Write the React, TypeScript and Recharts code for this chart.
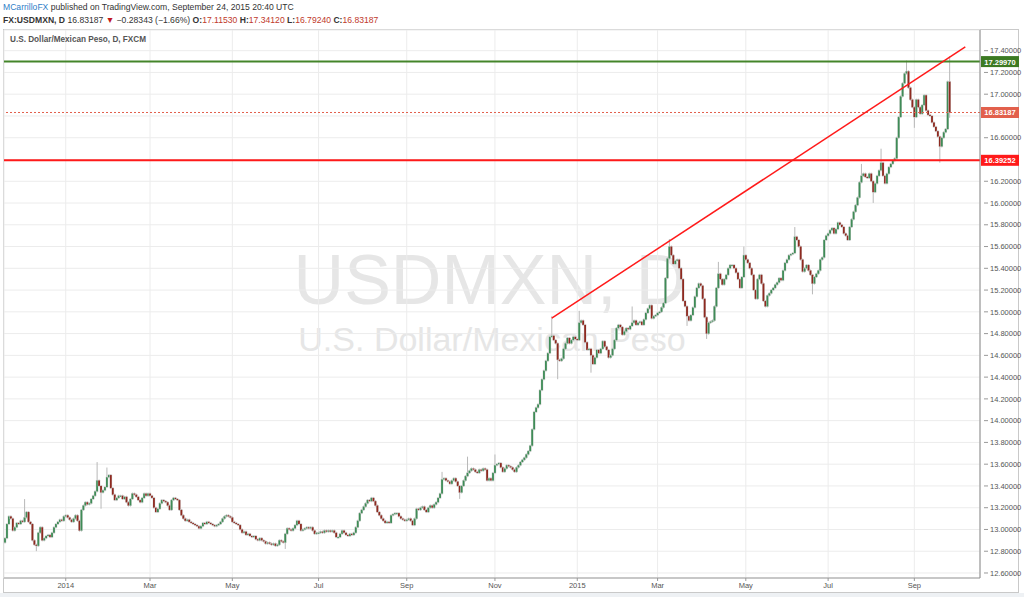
import { ComposedChart, Bar, XAxis, YAxis, CartesianGrid, ReferenceLine } from 'recharts';

// daily closes, USD/MXN, mid Nov 2013 -> 24 Sep 2015
const closes = [
  12.92, 13.05, 13.12, 13.10, 12.99, 13.02, 13.06, 13.05, 13.08, 13.07,
  13.11, 13.16, 13.07, 13.05, 12.90, 12.86, 12.85, 12.97, 13.02, 12.90,
  12.92, 12.94, 12.95, 12.93, 12.97, 13.02, 13.05, 13.07, 13.09, 13.08,
  13.12, 13.13, 13.11, 13.09, 13.07, 13.10, 13.13, 13.08, 12.99, 13.18,
  13.22, 13.25, 13.23, 13.24, 13.28, 13.31, 13.35, 13.45, 13.40, 13.34,
  13.36, 13.39, 13.48, 13.50, 13.38, 13.32, 13.27, 13.29, 13.31, 13.31,
  13.28, 13.30, 13.25, 13.22, 13.28, 13.33, 13.32, 13.30, 13.27, 13.25,
  13.29, 13.33, 13.31, 13.33, 13.31, 13.29, 13.20, 13.16, 13.19, 13.24,
  13.27, 13.26, 13.25, 13.22, 13.18, 13.27, 13.29, 13.28, 13.27, 13.18,
  13.13, 13.10, 13.08, 13.09, 13.07, 13.06, 13.05, 13.04, 13.03, 13.01,
  13.03, 13.06, 13.05, 13.07, 13.06, 13.05, 13.04, 13.03, 13.04, 13.05,
  13.07, 13.10, 13.12, 13.13, 13.12, 13.11, 13.07, 13.06, 13.05, 13.04,
  13.00, 12.97, 12.98, 12.95, 12.96, 12.94, 12.93, 12.94, 12.91, 12.90,
  12.92, 12.90, 12.89, 12.87, 12.88, 12.87, 12.86, 12.87, 12.85, 12.86,
  12.90, 12.89, 12.88, 12.96, 13.01, 13.00, 12.99, 13.01, 13.04, 13.08,
  13.05, 12.99, 13.00, 13.01, 13.02, 13.01, 13.02, 12.99, 12.96, 12.97,
  12.97, 12.98, 12.97, 12.99, 12.98, 12.99, 12.98, 12.99, 12.97, 12.93,
  12.93, 12.96, 12.99, 12.97, 12.95, 12.94, 12.96, 12.95, 12.97, 13.02,
  13.08, 13.15, 13.18, 13.21, 13.24, 13.27, 13.26, 13.29, 13.26, 13.22,
  13.16, 13.13, 13.10, 13.08, 13.06, 13.07, 13.06, 13.13, 13.14, 13.15,
  13.15, 13.12, 13.10, 13.09, 13.08, 13.09, 13.10, 13.08, 13.04, 13.10,
  13.19, 13.18, 13.20, 13.21, 13.18, 13.16, 13.20, 13.22, 13.20, 13.23,
  13.25, 13.29, 13.33, 13.46, 13.47, 13.45, 13.44, 13.42, 13.45, 13.47,
  13.44, 13.40, 13.34, 13.40, 13.45, 13.49, 13.52, 13.54, 13.56, 13.55,
  13.53, 13.52, 13.55, 13.54, 13.56, 13.55, 13.45, 13.47, 13.45, 13.52,
  13.59, 13.60, 13.61, 13.57, 13.53, 13.56, 13.59, 13.58, 13.57, 13.55,
  13.53, 13.57, 13.59, 13.62, 13.64, 13.66, 13.69, 13.72, 13.77, 13.92,
  14.08, 14.12, 14.15, 14.28, 14.38, 14.46, 14.55, 14.62, 14.77, 14.78,
  14.74, 14.71, 14.56, 14.55, 14.57, 14.66, 14.71, 14.76, 14.71, 14.74,
  14.77, 14.75, 14.74, 14.90, 14.92, 14.88, 14.72, 14.65, 14.66, 14.60,
  14.52, 14.58, 14.65, 14.62, 14.66, 14.73, 14.68, 14.65, 14.58, 14.60,
  14.66, 14.74, 14.85, 14.88, 14.86, 14.79, 14.82, 14.85, 14.84, 14.87,
  14.90, 14.92, 14.88, 14.90, 14.91, 14.88, 14.93, 14.99, 15.03, 15.06,
  14.94, 14.96, 14.97, 14.99, 15.00, 15.04, 15.08, 15.31, 15.49, 15.60,
  15.52, 15.44, 15.47, 15.48, 15.40, 15.30, 15.10, 15.05, 14.96, 14.92,
  14.97, 15.04, 15.14, 15.22, 15.26, 15.24, 15.12, 14.95, 14.80, 14.90,
  14.91, 14.92, 15.05, 15.22, 15.35, 15.30, 15.25, 15.30, 15.34, 15.40,
  15.43, 15.43, 15.40, 15.36, 15.30, 15.22, 15.32, 15.52, 15.48, 15.45,
  15.40, 15.34, 15.20, 15.12, 15.30, 15.34, 15.26, 15.10, 15.05, 15.15,
  15.17, 15.20, 15.22, 15.25, 15.27, 15.31, 15.29, 15.38, 15.45, 15.48,
  15.52, 15.53, 15.54, 15.69, 15.66, 15.60, 15.48, 15.37, 15.40, 15.43,
  15.38, 15.34, 15.26, 15.32, 15.35, 15.38, 15.48, 15.50, 15.66, 15.70,
  15.72, 15.75, 15.77, 15.72, 15.76, 15.82, 15.80, 15.78, 15.72, 15.70,
  15.66, 15.78, 15.85, 15.92, 15.98, 16.05, 16.19, 16.25, 16.27, 16.24,
  16.23, 16.27, 16.20, 16.10, 16.18, 16.25, 16.30, 16.37, 16.25, 16.18,
  16.27, 16.33, 16.36, 16.39, 16.41, 16.60, 16.79, 16.98, 17.10, 17.19,
  17.21, 17.06, 16.95, 16.88, 16.79, 16.95, 16.88, 16.82, 16.90, 16.99,
  16.85, 16.81, 16.80, 16.74, 16.70, 16.66, 16.61, 16.52, 16.60, 16.65,
  16.68, 17.1153, 16.83187,
];
const firstOpen = 12.88;

// wicks that stick out of the bodies: [bar index, price]
const wickHigh: [number, number][] = [
  [10, 13.27], [47, 13.61], [52, 13.56], [223, 13.52], [236, 13.66], [250, 13.68],
  [279, 14.95], [293, 15.0], [320, 15.04], [339, 15.66], [364, 15.45], [377, 15.59],
  [403, 15.77], [437, 16.35], [447, 16.49], [460, 17.3], [482, 17.3412],
];
const wickLow: [number, number][] = [
  [16, 12.81], [49, 13.2], [143, 12.83], [232, 13.29], [282, 14.39], [299, 14.45],
  [348, 14.88], [358, 14.76], [412, 15.17], [443, 16.01], [464, 16.7], [477, 16.38],
  [482, 16.7924],
];
const emptyBarsRight = 15;

const xTickIdx = [31, 74, 116, 160, 205, 250, 292, 333, 378, 420, 464];
const xTickLabels = ['2014', 'Mar', 'May', 'Jul', 'Sep', 'Nov', '2015', 'Mar', 'May', 'Jul', 'Sep'];
const yTicks = [
  12.6, 12.8, 13.0, 13.2, 13.4, 13.6, 13.8, 14.0, 14.2, 14.4, 14.6, 14.8, 15.0,
  15.2, 15.4, 15.6, 15.8, 16.0, 16.2, 16.4, 16.6, 16.8, 17.0, 17.2, 17.4,
];

const resistance = 17.2997;
const support = 16.39252;
const lastPrice = 16.83187;
const trendFrom = { i: 279, price: 14.942 };
const trendTo = { i: 490, price: 17.434 };

const UP = '#3f8c57';
const DOWN = '#8e2a20';
const GREEN_LINE = '#44852a';
const RED_LINE = '#ff1a1a';
const LAST_COL = '#e2604c';

const hiMap = new Map(wickHigh);
const loMap = new Map(wickLow);
const data: any[] = [];
for (let i = 0; i < closes.length + emptyBarsRight; i++) {
  if (i < closes.length) {
    const open = i === 0 ? firstOpen : closes[i - 1];
    const close = closes[i];
    const high = Math.max(open, close, hiMap.get(i) ?? -Infinity);
    const low = Math.min(open, close, loMap.get(i) ?? Infinity);
    data.push({ i, open, close, high, low, range: [low, high] });
  } else {
    data.push({ i, range: null });
  }
}

function Candle(props: any) {
  const { x, y, width, height, payload } = props;
  if (!payload || payload.open == null) return null;
  const { open, close, high, low } = payload;
  const top = Math.min(y, y + height);
  const h = Math.abs(height);
  const span = high - low;
  const py = (v: number) => (span > 0 ? top + ((high - v) / span) * h : top);
  const cx = x + width / 2;
  const bTop = py(Math.max(open, close));
  const bBot = py(Math.min(open, close));
  const bh = Math.max(1, bBot - bTop);
  return (
    <g>
      <line x1={cx} x2={cx} y1={top - 1} y2={top + h + 1} stroke="#b8b8b8" strokeWidth={1} />
      <rect x={cx - 1.3} y={bTop - 0.5} width={2.6} height={bh + 1} fill="#d4d4d4" />
      <rect x={cx - 0.9} y={bTop} width={1.8} height={bh} fill={close >= open ? UP : DOWN} />
    </g>
  );
}

const tagged = [resistance, support, lastPrice];

function YTick(props: any) {
  const { x, y, payload } = props;
  if (tagged.some((t) => Math.abs(t - payload.value) < 0.07)) return null;
  return (
    <g>
      <line x1={x - 4} x2={x} y1={y} y2={y} stroke="#999" />
      <text x={x + 2} y={y + 2.7} fontSize={7.5} fill="#555" fontFamily='"Liberation Sans", Arial, sans-serif'>
        {payload.value.toFixed(5)}
      </text>
    </g>
  );
}

const priceTag = (text: string, bg: string) => (props: any) => {
  const vb = props.viewBox;
  const x = vb.x + vb.width + 1;
  return (
    <g>
      <rect x={x} y={vb.y - 5.5} width={38} height={11} fill={bg} />
      <text x={x + 19} y={vb.y + 3} textAnchor="middle" fontSize={7.5} fontWeight="bold" fill="#fff"
        fontFamily='"Liberation Sans", Arial, sans-serif'>
        {text}
      </text>
    </g>
  );
};

const sans = '"Liberation Sans", Arial, sans-serif';

export default function App() {
  return (
    <div style={{ position: 'relative', width: 1024, height: 597, background: '#fff', overflow: 'hidden' }}>
      <style>{'body{margin:0}'}</style>
      <div style={{ position: 'absolute', left: 0, top: 593, width: 1024, height: 4, background: '#eef1f4' }} />
      <div style={{ position: 'absolute', left: 3, top: 29, width: 1016, height: 564, border: '1px solid #c9c9c9', boxSizing: 'border-box' }} />
      <div style={{ position: 'absolute', left: 490, top: 245, transform: 'translateX(-50%)', fontFamily: sans, fontSize: 70, color: '#e6e6e6', whiteSpace: 'nowrap', lineHeight: 1 }}>
        USDMXN, D
      </div>
      <div style={{ position: 'absolute', left: 492, top: 322, transform: 'translateX(-50%)', fontFamily: sans, fontSize: 34, color: '#e6e6e6', whiteSpace: 'nowrap', lineHeight: 1 }}>
        U.S. Dollar/Mexican Peso
      </div>
      <div style={{ position: 'absolute', left: 0, top: 0 }}>
        <ComposedChart width={1024} height={597} data={data} barCategoryGap={0} margin={{ top: 30, right: 0, left: 4, bottom: 4 }}>
          <CartesianGrid stroke="#ececec" />
          <XAxis dataKey="i" ticks={xTickIdx} interval={0} height={15} tickSize={3}
            tickFormatter={(v) => xTickLabels[xTickIdx.indexOf(v)] ?? ''}
            axisLine={{ stroke: '#999' }} tickLine={{ stroke: '#999' }}
            tick={{ fontSize: 7.5, fill: '#555', fontFamily: sans }} />
          <YAxis orientation="right" type="number" domain={[12.554, 17.59]} allowDataOverflow ticks={yTicks}
            interval={0} width={44} axisLine={{ stroke: '#888' }} tickLine={false} tick={<YTick />} />
          <Bar dataKey="range" shape={Candle} isAnimationActive={false} />
          <ReferenceLine y={lastPrice} stroke={LAST_COL} strokeDasharray="2 2" label={priceTag(lastPrice.toFixed(5), LAST_COL)} />
          <ReferenceLine y={support} stroke={RED_LINE} strokeWidth={2} label={priceTag(support.toFixed(5), RED_LINE)} />
          <ReferenceLine y={resistance} stroke={GREEN_LINE} strokeWidth={2} label={priceTag(resistance.toFixed(5), '#3c7a22')} />
          <ReferenceLine segment={[{ x: trendFrom.i, y: trendFrom.price }, { x: trendTo.i, y: trendTo.price }]}
            stroke={RED_LINE} strokeWidth={1.5} />
        </ComposedChart>
      </div>
      <div style={{ position: 'absolute', left: 3, top: 2, fontFamily: sans, fontSize: 8.6, color: '#333', whiteSpace: 'nowrap' }}>
        <span style={{ color: '#2f80c8' }}>MCarrilloFX</span> published on TradingView.com, September 24, 2015 20:40 UTC
      </div>
      <div style={{ position: 'absolute', left: 3, top: 15, fontFamily: sans, fontSize: 8.6, color: '#333', whiteSpace: 'nowrap' }}>
        <b>FX:USDMXN, D</b> 16.83187 <span style={{ color: '#c0181c' }}>▼</span> −0.28343 (−1.66%){' '}
        <b>O:</b><span style={{ color: '#c0392b' }}>17.11530</span> <b>H:</b><span style={{ color: '#c0392b' }}>17.34120</span>{' '}
        <b>L:</b><span style={{ color: '#c0392b' }}>16.79240</span> <b>C:</b><span style={{ color: '#c0392b' }}>16.83187</span>
      </div>
      <div style={{ position: 'absolute', left: 10, top: 35, fontFamily: sans, fontSize: 8.2, fontWeight: 'bold', color: '#555', whiteSpace: 'nowrap' }}>
        U.S. Dollar/Mexican Peso, D, FXCM
      </div>
    </div>
  );
}
